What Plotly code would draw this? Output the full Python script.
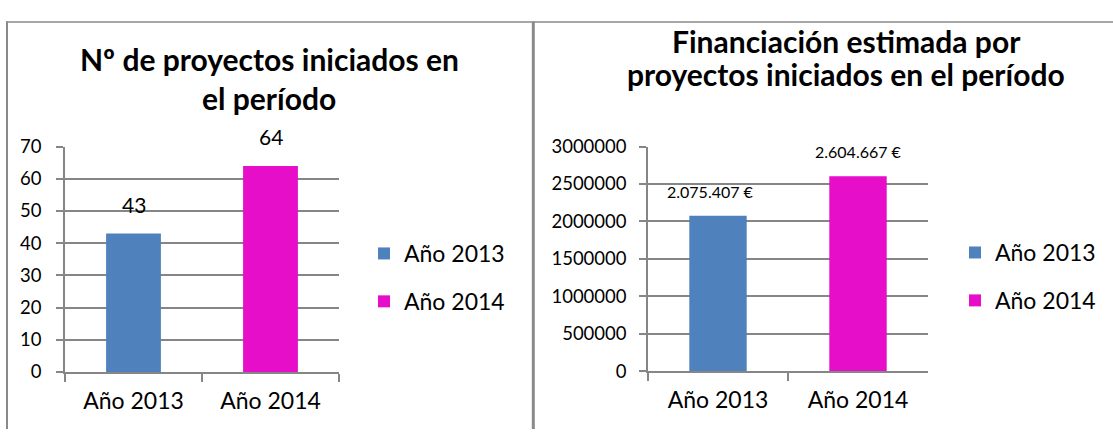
import plotly.graph_objects as go

# ---- data ----
categories = ["Año 2013", "Año 2014"]
series_names = ["Año 2013", "Año 2014"]
proyectos = [43, 64]
financiacion = [2075407, 2604667]
title_left = ["Nº de proyectos iniciados en", "el período"]
title_right = ["Financiación estimada por", "proyectos iniciados en el período"]

colors = ["#4F81BD", "#E60EC8"]
W, H = 1113, 439
FONT = "Lato"
GRID = "#868686"


def px(x):
    return x / W


def py(y):
    return 1 - y / H


fig = go.Figure()

for i, name in enumerate(series_names):
    fig.add_trace(go.Bar(
        x=[categories[i]], y=[proyectos[i]], name=name,
        marker=dict(color=colors[i], line=dict(width=0)), width=0.4,
        xaxis="x", yaxis="y", legend="legend", legendgroup="L" + str(i),
        hoverinfo="skip"))
for i, name in enumerate(series_names):
    fig.add_trace(go.Bar(
        x=[categories[i]], y=[financiacion[i]], name=name,
        marker=dict(color=colors[i], line=dict(width=0)), width=0.41,
        xaxis="x2", yaxis="y2", legend="legend2", legendgroup="R" + str(i),
        hoverinfo="skip"))

annotations = []
for i, v in enumerate(proyectos):
    annotations.append(dict(x=categories[i], y=v, xref="x", yref="y", text=str(v),
                            showarrow=False, yanchor="bottom", yshift=15,
                            font=dict(family=FONT, size=21, color="#000")))
label_xshift = [-8, 0]
for i, v in enumerate(financiacion):
    annotations.append(dict(x=categories[i], y=v, xref="x2", yref="y2",
                            text=f"{v:,}".replace(",", ".") + " €",
                            showarrow=False, yanchor="bottom", yshift=13,
                            xshift=label_xshift[i],
                            font=dict(family=FONT, size=16, color="#000")))
for j, (line, yc) in enumerate(zip(title_left, [49, 91])):
    annotations.append(dict(x=px(269), y=py(yc), xref="paper", yref="paper",
                            text="<b>" + line + "</b>", showarrow=False,
                            xanchor="center", yanchor="middle",
                            font=dict(family=FONT, size=30, color="#000")))
for j, (line, yc) in enumerate(zip(title_right, [30.5, 65])):
    annotations.append(dict(x=px(846), y=py(yc), xref="paper", yref="paper",
                            text="<b>" + line + "</b>", showarrow=False,
                            xanchor="center", yanchor="middle",
                            font=dict(family=FONT, size=30, color="#000")))

shapes = [
    dict(type="line", xref="paper", yref="paper", x0=px(7), x1=px(7), y0=py(10), y1=0,
         line=dict(color="#8A8A8A", width=2)),
    dict(type="line", xref="paper", yref="paper", x0=px(6), x1=1, y0=py(10.5), y1=py(10.5),
         line=dict(color="#8A8A8A", width=1.5)),
    dict(type="line", xref="paper", yref="paper", x0=px(533.3), x1=px(533.3), y0=py(10), y1=0,
         line=dict(color="#8A8A8A", width=3)),
]

common_x = dict(type="category", categoryorder="array", categoryarray=categories,
                range=[-0.5, 1.5], showline=True, linecolor=GRID, linewidth=1.5,
                ticks="outside", tickson="boundaries", ticklen=8, tickcolor=GRID,
                tickwidth=1.5, showgrid=False, ticklabelstandoff=8,
                tickfont=dict(family=FONT, size=23, color="#000"), fixedrange=True)
common_y = dict(showline=True, linecolor=GRID, linewidth=1.5, ticks="outside",
                ticklen=7, tickcolor=GRID, tickwidth=1.5, showgrid=True,
                gridcolor=GRID, gridwidth=1.5, zeroline=False,
                tickfont=dict(family=FONT, size=18.5, color="#000"), fixedrange=True)

legend_common = dict(orientation="v", xanchor="left", yanchor="middle",
                     font=dict(family=FONT, size=23, color="#000"),
                     bgcolor="rgba(0,0,0,0)", borderwidth=0, itemwidth=30,
                     tracegroupgap=15, traceorder="grouped", itemclick=False,
                     itemdoubleclick=False)

fig.update_layout(
    width=W, height=H, margin=dict(l=0, r=0, t=0, b=0),
    paper_bgcolor="white", plot_bgcolor="white",
    barmode="overlay", showlegend=True,
    xaxis=dict(domain=[px(65), px(339)], anchor="y", **common_x),
    yaxis=dict(domain=[py(379), py(141.7)], anchor="x", range=[0, 70], dtick=10,
               ticklabelstandoff=11, **common_y),
    xaxis2=dict(domain=[px(648), px(928)], anchor="y2", **common_x),
    yaxis2=dict(domain=[py(378), py(141.7)], anchor="x2", range=[0, 3000000],
                dtick=500000, tickformat="d", ticklabelstandoff=9, **common_y),
    legend=dict(x=px(364), y=py(279.5), **legend_common),
    legend2=dict(x=px(955), y=py(278.5), **legend_common),
    annotations=annotations, shapes=shapes,
)

fig.write_html("out.html", config={"displayModeBar": False},
               post_script="document.body.style.margin='0';document.body.style.overflow='hidden';")
